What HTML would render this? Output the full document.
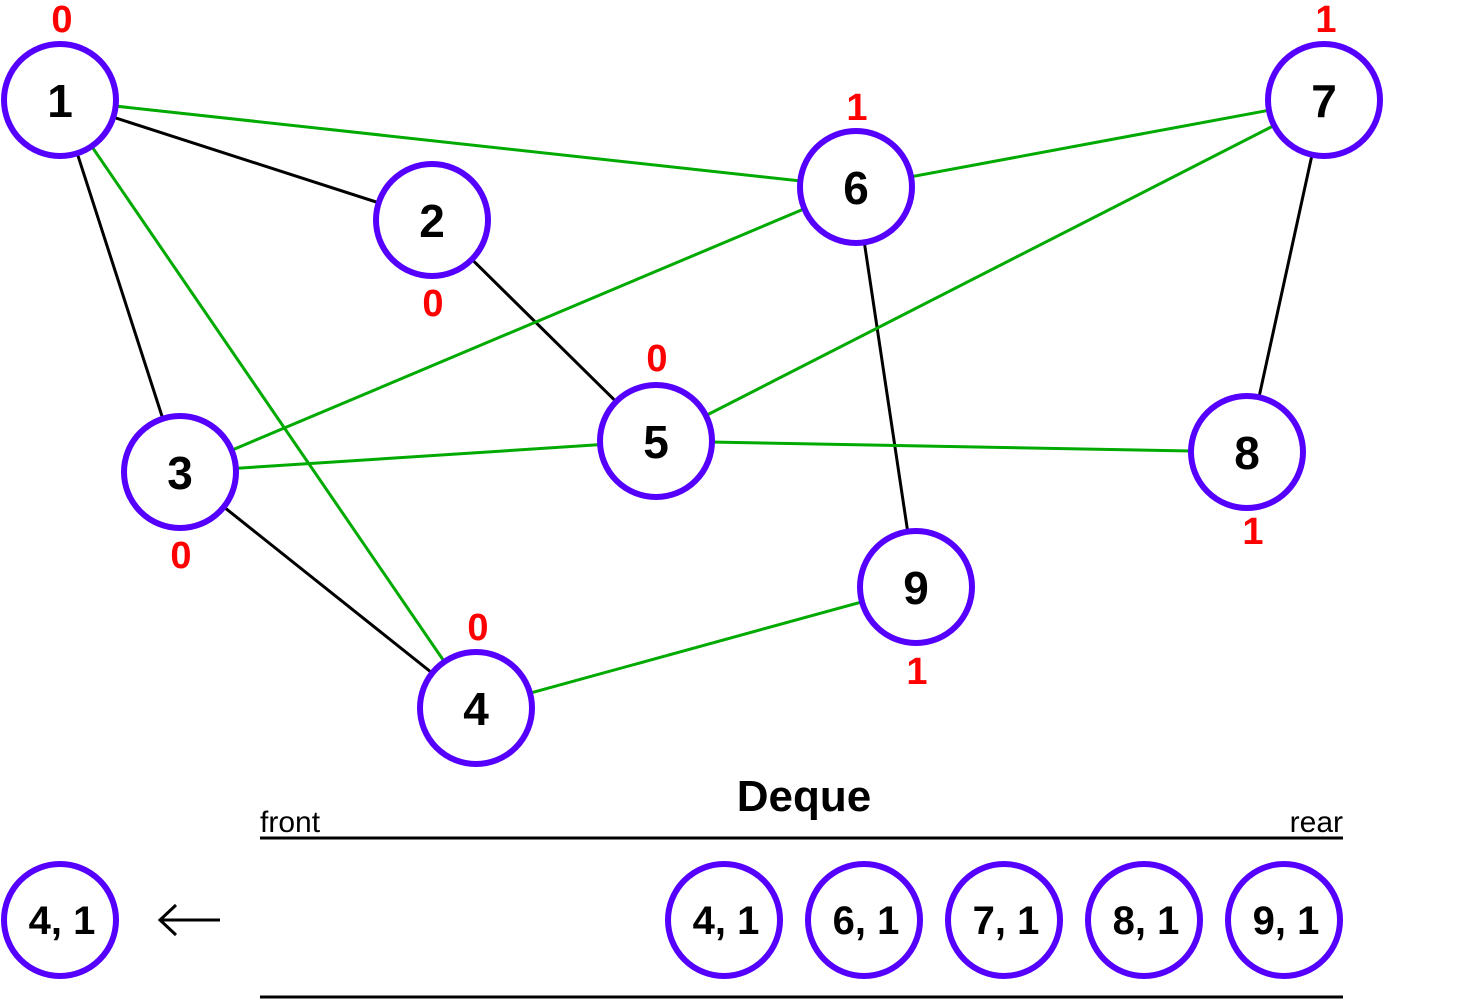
<!DOCTYPE html>
<html><head><style>body{margin:0;background:#fff}svg{display:block}</style></head><body>
<svg width="1472" height="1000" viewBox="0 0 1472 1000" xmlns="http://www.w3.org/2000/svg" font-family="Liberation Sans, sans-serif" font-weight="bold">
<g stroke-width="3">
<line x1="60" y1="100" x2="432" y2="220" stroke="#000"/>
<line x1="60" y1="100" x2="180" y2="472" stroke="#000"/>
<line x1="432" y1="220" x2="656" y2="441" stroke="#000"/>
<line x1="180" y1="472" x2="476" y2="708" stroke="#000"/>
<line x1="856" y1="187" x2="916" y2="587" stroke="#000"/>
<line x1="1324" y1="100" x2="1247" y2="452" stroke="#000"/>
<line x1="60" y1="100" x2="856" y2="187" stroke="#00aa00"/>
<line x1="60" y1="100" x2="476" y2="708" stroke="#00aa00"/>
<line x1="856" y1="187" x2="1324" y2="100" stroke="#00aa00"/>
<line x1="856" y1="187" x2="180" y2="472" stroke="#00aa00"/>
<line x1="1324" y1="100" x2="656" y2="441" stroke="#00aa00"/>
<line x1="180" y1="472" x2="656" y2="441" stroke="#00aa00"/>
<line x1="656" y1="441" x2="1247" y2="452" stroke="#00aa00"/>
<line x1="476" y1="708" x2="916" y2="587" stroke="#00aa00"/>
</g>
<g fill="#fff" stroke="#5500ff" stroke-width="6">
<circle cx="60" cy="100" r="56"/><circle cx="432" cy="220" r="56"/><circle cx="856" cy="187" r="56"/>
<circle cx="1324" cy="100" r="56"/><circle cx="180" cy="472" r="56"/><circle cx="656" cy="441" r="56"/>
<circle cx="1247" cy="452" r="56"/><circle cx="916" cy="587" r="56"/><circle cx="476" cy="708" r="56"/>
<circle cx="60" cy="920" r="56"/><circle cx="724" cy="920" r="56"/><circle cx="864" cy="920" r="56"/>
<circle cx="1004" cy="920" r="56"/><circle cx="1144" cy="920" r="56"/><circle cx="1284" cy="920" r="56"/>
</g>
<g font-size="46" text-anchor="middle" fill="#000">
<text x="60" y="117">1</text><text x="432" y="237">2</text><text x="856" y="204">6</text>
<text x="1324" y="117">7</text><text x="180" y="489">3</text><text x="656" y="458">5</text>
<text x="1247" y="469">8</text><text x="916" y="604">9</text><text x="476" y="725">4</text>
</g>
<g font-size="40" text-anchor="middle" fill="#000">
<text x="62" y="934">4, 1</text><text x="726" y="934">4, 1</text><text x="866" y="934">6, 1</text>
<text x="1006" y="934">7, 1</text><text x="1146" y="934">8, 1</text><text x="1286" y="934">9, 1</text>
</g>
<g font-size="38" text-anchor="middle" fill="#ff0000">
<text x="62" y="32">0</text><text x="857" y="120">1</text><text x="1326" y="32">1</text>
<text x="433" y="316">0</text><text x="657" y="371">0</text><text x="181" y="568">0</text>
<text x="1253" y="544">1</text><text x="478" y="640">0</text><text x="917" y="684">1</text>
</g>
<text x="804" y="811" font-size="44" text-anchor="middle">Deque</text>
<text x="260" y="832" font-size="30" font-weight="normal">front</text>
<text x="1343" y="832" font-size="30" font-weight="normal" text-anchor="end">rear</text>
<line x1="260" y1="838" x2="1343" y2="838" stroke="#000" stroke-width="3"/>
<line x1="260" y1="997" x2="1343" y2="997" stroke="#000" stroke-width="3"/>
<g stroke="#000" stroke-width="3" fill="none">
<line x1="160" y1="920" x2="220" y2="920"/>
<polyline points="176,905 160,920 176,935"/>
</g>
</svg>
</body></html>
